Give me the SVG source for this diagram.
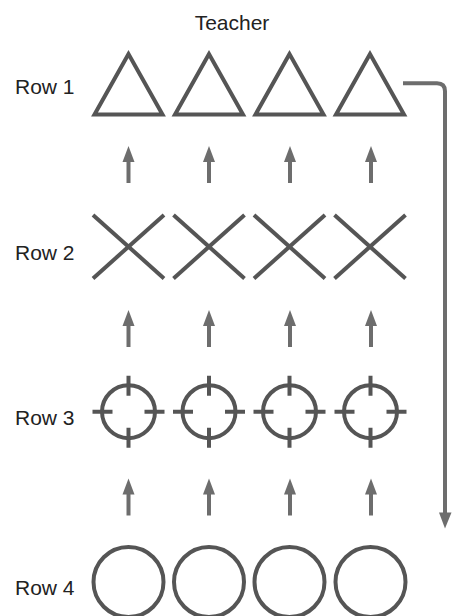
<svg xmlns="http://www.w3.org/2000/svg" xmlns:xlink="http://www.w3.org/1999/xlink" width="456" height="616" viewBox="0 0 456 616">
<style>
.lbl{font-family:"Liberation Sans",Arial,sans-serif;font-size:21px;fill:#222;}
.shape{fill:none;stroke:#555;stroke-width:4;}
.arr{stroke:#6d6d6d;stroke-width:4;fill:none;}
.head{fill:#6d6d6d;}
</style>
<defs>
<g id="tri"><polygon class="shape" points="0,54 -34,114.5 34,114.5" stroke-linejoin="miter"/></g>
<g id="cross"><line class="shape" x1="-35.5" y1="-31.7" x2="35.5" y2="31.7"/><line class="shape" x1="35.5" y1="-31.7" x2="-35.5" y2="31.7"/></g>
<g id="target"><circle class="shape" cx="0" cy="0" r="26.5"/><path class="shape" d="M0,-36V-16M0,16V36M-36,0H-16M16,0H36"/></g>
<g id="circ"><circle class="shape" cx="0" cy="0" r="35"/></g>
<g id="up"><line class="arr" x1="0" y1="37" x2="0" y2="14"/><polygon class="head" points="0,0 -6,16 6,16"/></g>
</defs>
<text class="lbl" x="232" y="30" text-anchor="middle">Teacher</text>
<g id="row1">
<text class="lbl" x="15" y="93.5">Row 1</text>
<g id="r1c1"><use xlink:href="#tri" x="128.5" y="0"/></g>
<g id="r1c2"><use xlink:href="#tri" x="209" y="0"/></g>
<g id="r1c3"><use xlink:href="#tri" x="289.5" y="0"/></g>
<g id="r1c4"><use xlink:href="#tri" x="370" y="0"/></g>
</g>
<g id="row2">
<text class="lbl" x="15" y="259.5">Row 2</text>
<g id="r2c1"><use xlink:href="#cross" x="128.5" y="246.7"/></g>
<g id="r2c2"><use xlink:href="#cross" x="209" y="246.7"/></g>
<g id="r2c3"><use xlink:href="#cross" x="289.5" y="246.7"/></g>
<g id="r2c4"><use xlink:href="#cross" x="370" y="246.7"/></g>
</g>
<g id="row3">
<text class="lbl" x="15" y="425">Row 3</text>
<g id="r3c1"><use xlink:href="#target" x="128.5" y="411.7"/></g>
<g id="r3c2"><use xlink:href="#target" x="209" y="411.7"/></g>
<g id="r3c3"><use xlink:href="#target" x="289.5" y="411.7"/></g>
<g id="r3c4"><use xlink:href="#target" x="370.5" y="411.7"/></g>
</g>
<g id="row4">
<text class="lbl" x="15" y="595">Row 4</text>
<g id="r4c1"><use xlink:href="#circ" x="128.5" y="582"/></g>
<g id="r4c2"><use xlink:href="#circ" x="209" y="582"/></g>
<g id="r4c3"><use xlink:href="#circ" x="289.5" y="582"/></g>
<g id="r4c4"><use xlink:href="#circ" x="370.5" y="582"/></g>
</g>
<g id="connectors">
<use xlink:href="#up" x="128.5" y="146"/>
<use xlink:href="#up" x="209" y="146"/>
<use xlink:href="#up" x="290" y="146"/>
<use xlink:href="#up" x="371" y="146"/>
<use xlink:href="#up" x="128.5" y="310"/>
<use xlink:href="#up" x="209" y="310"/>
<use xlink:href="#up" x="290" y="310"/>
<use xlink:href="#up" x="371" y="310"/>
<use xlink:href="#up" x="128.5" y="478.5"/>
<use xlink:href="#up" x="209" y="478.5"/>
<use xlink:href="#up" x="290" y="478.5"/>
<use xlink:href="#up" x="371" y="478.5"/>
<path class="arr" d="M403,83.3H437Q445,83.3 445,91.3V514"/>
<polygon class="head" points="439,512.5 451.5,512.5 445,528.5"/>
</g>
</svg>
